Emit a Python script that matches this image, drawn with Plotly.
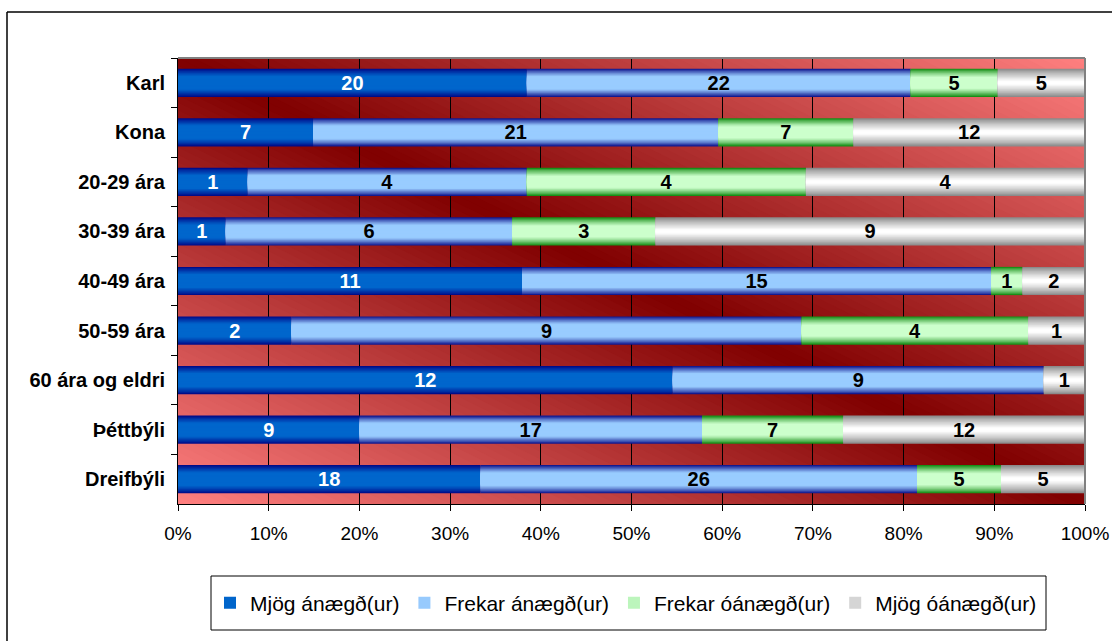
import plotly.graph_objects as go

# ---------------- data ----------------
categories = ["Karl", "Kona", "20-29 ára", "30-39 ára", "40-49 ára",
              "50-59 ára", "60 ára og eldri", "Þéttbýli", "Dreifbýli"]
series_names = ["Mjög ánægð(ur)", "Frekar ánægð(ur)", "Frekar óánægð(ur)", "Mjög óánægð(ur)"]
mjog_anaegd = [20, 7, 1, 1, 11, 2, 12, 9, 18]
frekar_anaegd = [22, 21, 4, 6, 15, 9, 9, 17, 26]
frekar_oanaegd = [5, 7, 4, 3, 1, 4, 0, 7, 5]
mjog_oanaegd = [5, 12, 4, 9, 2, 1, 1, 12, 5]
x_tick_vals = [0, 0.1, 0.2, 0.3, 0.4, 0.5, 0.6, 0.7, 0.8, 0.9, 1.0]
x_tick_text = ["0%", "10%", "20%", "30%", "40%", "50%", "60%", "70%", "80%", "90%", "100%"]

series_values = [mjog_anaegd, frekar_anaegd, frekar_oanaegd, mjog_oanaegd]

# ---------------- styles ----------------
FONT = "Liberation Sans, Arial, sans-serif"
edge_cols = [(0, 0, 128), (0, 0, 128), (0, 128, 0), (128, 128, 128)]
core_cols = [(0, 102, 204), (153, 204, 255), (204, 255, 204), (255, 255, 255)]
grad_reach = [0.55, 0.55, 0.6, 0.9]
text_cols = ["white", "black", "black", "black"]
BAR_W = 0.57
N_LAYERS = 12


def mix(a, b, t):
    return "rgb(%d,%d,%d)" % tuple(round(a[i] + (b[i] - a[i]) * t) for i in range(3))


totals = [sum(v[i] for v in series_values) for i in range(len(categories))]
shares = [[v[i] / totals[i] for i in range(len(categories))] for v in series_values]
bases = []
acc = [0.0] * len(categories)
for sh in shares:
    bases.append(list(acc))
    acc = [acc[i] + sh[i] for i in range(len(categories))]

fig = go.Figure()

for si, name in enumerate(series_names):
    for k in range(N_LAYERS):
        s = (k + 0.5) / N_LAYERS
        f = min(1.0, s / grad_reach[si]) ** 0.8
        col = mix(edge_cols[si], core_cols[si], f)
        fig.add_trace(go.Bar(
            y=categories, x=shares[si], base=bases[si], orientation="h",
            width=BAR_W * (1 - k / N_LAYERS),
            marker=dict(color=col, line=dict(width=0)),
            name=name, legendgroup=name,
            showlegend=(k == N_LAYERS // 2),
            hoverinfo="skip",
        ))

for si, name in enumerate(series_names):
    fig.add_trace(go.Bar(
        y=categories, x=shares[si], base=bases[si], orientation="h",
        width=BAR_W,
        marker=dict(color="rgba(0,0,0,0)", line=dict(width=0)),
        text=[str(v) if v else "" for v in series_values[si]],
        textposition="inside", insidetextanchor="middle", textangle=0,
        textfont=dict(family=FONT, size=20, color=text_cols[si], weight="bold"),
        showlegend=False, hoverinfo="skip", legendgroup=name,
    ))

# ---------------- background gradient (diagonal) ----------------
def clip_half(poly, a, b, c):
    out = []
    n = len(poly)
    for i in range(n):
        P, Q = poly[i], poly[(i + 1) % n]
        fp = a * P[0] + b * P[1] - c
        fq = a * Q[0] + b * Q[1] - c
        if fp >= 0:
            out.append(P)
        if (fp >= 0) != (fq >= 0):
            t = fp / (fp - fq)
            out.append((P[0] + t * (Q[0] - P[0]), P[1] + t * (Q[1] - P[1])))
    return out


dark = (128, 0, 0)
light = (255, 128, 128)
shapes = []
NB = 120
square = [(0, 0), (1, 0), (1, 1), (0, 1)]
for b in range(NB):
    c1 = 2.0 * b / NB
    c2 = 2.0 * (b + 1) / NB + 0.006
    poly = clip_half(square, 1, 1, c1)
    poly = clip_half(poly, -1, -1, -c2)
    if len(poly) < 3:
        continue
    cm = (c1 + 2.0 * (b + 1) / NB) / 2
    col = mix(dark, light, min(1.0, abs(cm - 1)))
    path = "M " + " L ".join("%.5f,%.5f" % p for p in poly) + " Z"
    shapes.append(dict(type="path", path=path, xref="paper", yref="paper",
                       fillcolor=col, line=dict(width=0), layer="below"))

# plot-area border (top/right gray)
shapes.append(dict(type="line", xref="paper", yref="paper", x0=0, x1=1, y0=1, y1=1,
                   line=dict(color="#808080", width=2), layer="above"))
shapes.append(dict(type="line", xref="paper", yref="paper", x0=1, x1=1, y0=0, y1=1,
                   line=dict(color="#808080", width=2), layer="above"))

# legend box
PW, PH, L, T = 907, 446, 178, 58
def px_x(x):
    return (x - L) / PW
def px_y(y):
    return (T + PH - y) / PH

shapes.append(dict(type="rect", xref="paper", yref="paper",
                   x0=px_x(211), x1=px_x(1046), y0=px_y(630), y1=px_y(576),
                   line=dict(color="black", width=1), fillcolor="white", layer="below"))
# outer chart frame
shapes.append(dict(type="line", xref="paper", yref="paper",
                   x0=px_x(7), x1=px_x(1130), y0=px_y(12), y1=px_y(12),
                   line=dict(color="black", width=1.5)))
shapes.append(dict(type="line", xref="paper", yref="paper",
                   x0=px_x(7), x1=px_x(7), y0=px_y(12), y1=px_y(660),
                   line=dict(color="black", width=1.5)))

fig.update_layout(
    width=1112, height=641,
    margin=dict(l=L, r=1112 - L - PW, t=T, b=641 - T - PH, autoexpand=False),
    paper_bgcolor="white", plot_bgcolor="rgba(0,0,0,0)",
    barmode="overlay",
    shapes=shapes,
    font=dict(family=FONT, size=19, color="black"),
    uniformtext=dict(minsize=20, mode="show"),
    legend=dict(orientation="h", x=px_x(210), xanchor="left",
                y=px_y(603), yanchor="middle",
                font=dict(family=FONT, size=21, color="black"),
                bgcolor="rgba(0,0,0,0)", borderwidth=0, traceorder="normal",
                itemclick=False, itemdoubleclick=False),
    xaxis=dict(range=[0, 1], tickvals=x_tick_vals, ticktext=x_tick_text,
               showgrid=True, gridcolor="black", gridwidth=1,
               ticks="outside", ticklen=6, tickcolor="black",
               showline=True, linecolor="black", linewidth=1,
               zeroline=False, ticklabelstandoff=6, automargin=False,
               tickfont=dict(family=FONT, size=19, color="black")),
    yaxis=dict(type="category", categoryorder="array", categoryarray=categories,
               autorange="reversed", tickson="boundaries",
               ticks="outside", ticklen=6, tickcolor="black",
               showline=True, linecolor="black", linewidth=1,
               showgrid=False, ticklabelstandoff=8, automargin=False,
               tickfont=dict(family=FONT, size=20, color="black", weight="bold")),
)

fig.write_html("out.html", config={"displayModeBar": False},
               post_script="document.body.style.margin='0';")
